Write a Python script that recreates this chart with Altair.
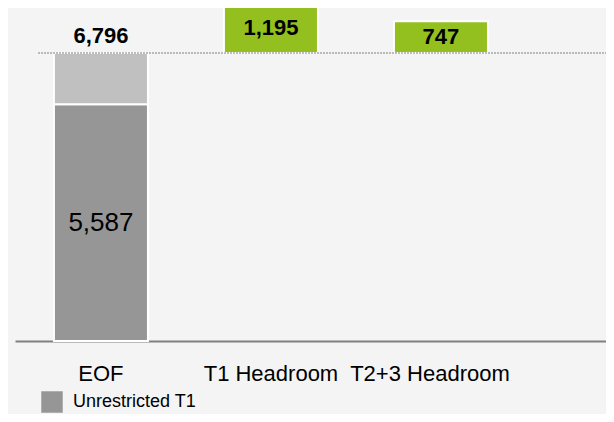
import altair as alt
import pandas as pd

categories = ["EOF", "T1 Headroom", "T2+3 Headroom"]
unrestricted_t1 = 5587
eof_total = 6796
headroom_cats = ["T1 Headroom", "T2+3 Headroom"]
headroom_vals = [1195, 747]
legend_label = "Unrestricted T1"

FONT = "Liberation Sans"

dark = pd.DataFrame({"cat": ["EOF"], "y0": [0], "y1": [unrestricted_t1],
                     "series": [legend_label], "label": [f"{unrestricted_t1:,}"]})
light = pd.DataFrame({"cat": ["EOF"], "y0": [unrestricted_t1], "y1": [eof_total]})
total = pd.DataFrame({"cat": ["EOF"], "y": [eof_total], "label": [f"{eof_total:,}"]})
green = pd.DataFrame({"cat": headroom_cats,
                      "y0": [eof_total] * len(headroom_vals),
                      "y1": [eof_total + v for v in headroom_vals],
                      "label": [f"{v:,}" for v in headroom_vals]})

xscale = alt.Scale(domain=categories, paddingInner=0.447, paddingOuter=0.4616, align=0.248)
yscale = alt.Scale(domain=[0, 7858], nice=False, zero=True)

X = alt.X("cat:N", scale=xscale, sort=categories, title=None,
          axis=alt.Axis(labelOffset={"condition": {"test": "datum.value === 'T2+3 Headroom'", "value": -11}, "value": 0}))

bars_dark = alt.Chart(dark).mark_bar(stroke="white", strokeWidth=2).encode(
    x=X,
    y=alt.Y("y0:Q", scale=yscale, axis=None),
    y2="y1:Q",
    color=alt.Color("series:N", scale=alt.Scale(domain=[legend_label], range=["#969696"]),
                    legend=alt.Legend(title=None, orient="none", legendX=26, legendY=383,
                                      symbolType="square", symbolSize=460, symbolStrokeWidth=0,
                                      labelFontSize=18, labelFont=FONT, labelColor="black",
                                      labelOffset=10, padding=0)),
)

bars_light = alt.Chart(light).mark_bar(stroke="white", strokeWidth=2, color="#c0c0c0").encode(
    x=X, y=alt.Y("y0:Q", scale=yscale, axis=None), y2="y1:Q",
)

bars_green = alt.Chart(green).mark_bar(stroke="white", strokeWidth=2, color="#93c01f").encode(
    x=X, y=alt.Y("y0:Q", scale=yscale, axis=None), y2="y1:Q",
)

rule = alt.Chart(total).mark_rule(color="#a6a6a6", strokeDash=[2, 1], strokeWidth=1.5).encode(
    y=alt.Y("y:Q", scale=yscale, axis=None), x=alt.value(23), x2=alt.value(591),
)

text_total = alt.Chart(total).mark_text(font=FONT, fontSize=22, fontWeight="bold",
                                        baseline="alphabetic", dy=-10, color="black").encode(
    x=X, y=alt.Y("y:Q", scale=yscale, axis=None), text="label:N",
)

text_green = alt.Chart(green).transform_calculate(mid="(datum.y0 + datum.y1) / 2").mark_text(
    font=FONT, fontSize=22, fontWeight="bold", baseline="middle", color="black").encode(
    x=X, y=alt.Y("mid:Q", scale=yscale, axis=None), text="label:N",
)

text_dark = alt.Chart(dark).transform_calculate(mid="(datum.y0 + datum.y1) / 2").mark_text(
    font=FONT, fontSize=26, baseline="middle", color="black").encode(
    x=X, y=alt.Y("mid:Q", scale=yscale, axis=None), text="label:N",
)

chart = alt.layer(
    bars_dark, bars_light, bars_green, rule, text_total, text_green, text_dark
).properties(
    width=591, height=333,
    autosize=alt.AutoSizeParams(type="none"),
    padding={"left": 7, "top": 0, "right": 0, "bottom": 73},
    background="#f4f4f4",
).configure_view(stroke=None).configure_axisX(
    domainColor="#808080", domainWidth=2, ticks=False, grid=False,
    labelFontSize=22, labelFont=FONT, labelColor="black", labelPadding=22, labelAngle=0,
)

chart.save("out.html", embed_options={"renderer": "svg", "actions": False})
